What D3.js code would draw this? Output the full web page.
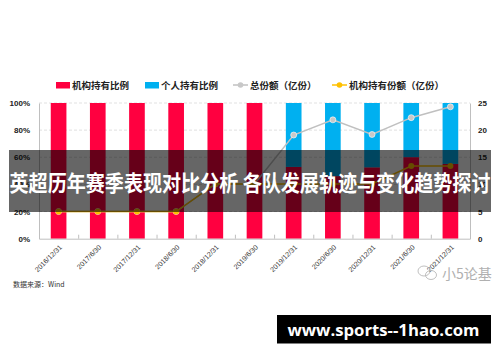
<!DOCTYPE html>
<html>
<head>
<meta charset="utf-8">
<script src="https://cdn.jsdelivr.net/npm/d3@7"></script>
<style>
  body { margin: 0; background: #fff; }
  svg { display: block; }
</style>
</head>
<body>
<svg id="chart" width="500" height="362"></svg>
<script>
// data
const dates = ['2016/12/31', '2017/6/30', '2017/12/31', '2018/6/30', '2018/12/31', '2019/6/30',
  '2019/12/31', '2020/6/30', '2020/12/31', '2021/6/30', '2021/12/31'];
const instPct = [100, 100, 100, 100, 100, 100, 52.9, 46.1, 52.6, 60.1, 55.1];
const indivPct = instPct.map(v => 100 - v);
const totalShares = [5, 5, 5, 5, 10.1, 10.1, 19.1, 21.9, 19.2, 22.3, 24.3];
const instShares = [5, 5, 5, 5, 10.1, 10.1, 10.1, 10.1, 10.1, 13.4, 13.4];
const pctTicks = [0, 20, 40, 60, 80, 100];
const shareTicks = [0, 5, 10, 15, 20, 25];

const svg = d3.select('#chart');
const plotLeft = 39, plotRight = 470, plotTop = 103, plotBottom = 238.7;

const x = d3.scaleBand().domain(dates).range([plotLeft, plotRight]).paddingInner(0.6).paddingOuter(0.3);
const xEdge = d3.scaleLinear().domain([0, dates.length]).range([plotLeft, plotRight]);
const y = d3.scaleLinear().domain([0, 100]).range([plotBottom, plotTop]);
const y2 = d3.scaleLinear().domain([0, 25]).range([plotBottom, plotTop]);

svg.append('rect').attr('width', 500).attr('height', 362).attr('fill', '#fff');

// gridlines
svg.append('g')
  .selectAll('line')
  .data(pctTicks.slice(1))
  .enter().append('line')
  .attr('x1', plotLeft).attr('x2', plotRight)
  .attr('y1', d => y(d)).attr('y2', d => y(d))
  .attr('stroke', '#d9d9d9')
  .attr('stroke-dasharray', '3,2')
  .attr('stroke-width', 0.8);

// stacked bars
const rows = dates.map((d, i) => ({ date: d, inst: instPct[i], indiv: indivPct[i] }));
const stack = d3.stack().keys(['inst', 'indiv'])(rows);
const colors = { inst: '#ff0040', indiv: '#00b0f0' };

svg.append('g')
  .selectAll('g')
  .data(stack)
  .enter().append('g')
  .attr('fill', s => colors[s.key])
  .selectAll('rect')
  .data(s => s)
  .enter().append('rect')
  .attr('x', d => x(d.data.date))
  .attr('width', x.bandwidth())
  .attr('y', d => y(d[1]))
  .attr('height', d => y(d[0]) - y(d[1]));

// axes
const axisColor = '#bfbfbf';
const labelFont = '"Liberation Sans", Arial, sans-serif';

const yAxis = svg.append('g')
  .attr('transform', `translate(${plotLeft},0)`)
  .call(d3.axisLeft(y).tickValues(pctTicks).tickFormat(d => d + '%').tickSize(0).tickPadding(9));
yAxis.select('.domain').attr('stroke', axisColor);

const y2Axis = svg.append('g')
  .attr('transform', `translate(${plotRight},0)`)
  .call(d3.axisRight(y2).tickValues(shareTicks).tickSize(0).tickPadding(8));
y2Axis.select('.domain').attr('stroke', axisColor);

[yAxis, y2Axis].forEach(g => g.selectAll('text')
  .attr('font-family', labelFont)
  .attr('font-size', 8)
  .attr('font-weight', 'bold')
  .attr('fill', '#222'));

const xTicks = svg.append('g')
  .attr('transform', `translate(0,${plotBottom})`)
  .call(d3.axisBottom(xEdge).tickValues(d3.range(dates.length + 1)).tickFormat('').tickSizeInner(-4).tickSizeOuter(0));
xTicks.select('.domain').attr('stroke', axisColor);
xTicks.selectAll('.tick line').attr('stroke', axisColor);

svg.append('g')
  .selectAll('text')
  .data(dates)
  .enter().append('text')
  .attr('transform', d => `translate(${x(d) + x.bandwidth() / 2 + 4},${plotBottom + 9}) rotate(-45)`)
  .attr('text-anchor', 'end')
  .attr('font-family', labelFont)
  .attr('font-size', 7)
  .attr('fill', '#333')
  .text(d => d);

// lines
const lineFn = d3.line().x((d, i) => x(dates[i]) + x.bandwidth() / 2).y(d => y2(d));

svg.append('path')
  .datum(totalShares)
  .attr('d', lineFn)
  .attr('fill', 'none')
  .attr('stroke', '#c0c0c0')
  .attr('stroke-width', 1.5);
svg.append('g')
  .selectAll('circle')
  .data(totalShares)
  .enter().append('circle')
  .attr('cx', (d, i) => x(dates[i]) + x.bandwidth() / 2)
  .attr('cy', d => y2(d))
  .attr('r', 3)
  .attr('fill', '#c8c8c8')
  .attr('stroke', '#fff')
  .attr('stroke-width', 0.6);

svg.append('path')
  .datum(instShares)
  .attr('d', lineFn)
  .attr('fill', 'none')
  .attr('stroke', '#ffc000')
  .attr('stroke-width', 1.5);
svg.append('g')
  .selectAll('circle')
  .data(instShares)
  .enter().append('circle')
  .attr('cx', (d, i) => x(dates[i]) + x.bandwidth() / 2)
  .attr('cy', d => y2(d))
  .attr('r', 3)
  .attr('fill', '#ffc000');

// legend
const legend = svg.append('g').attr('font-family', '"Noto Sans CJK SC", sans-serif')
  .attr('font-size', 9.5).attr('font-weight', 'bold').attr('fill', '#222');
legend.append('rect').attr('x', 56).attr('y', 82).attr('width', 14).attr('height', 6.5).attr('fill', colors.inst);
legend.append('text').attr('x', 72).attr('y', 88.5).text('机构持有比例');
legend.append('rect').attr('x', 145).attr('y', 82).attr('width', 14).attr('height', 6.5).attr('fill', colors.indiv);
legend.append('text').attr('x', 161).attr('y', 88.5).text('个人持有比例');
legend.append('line').attr('x1', 233).attr('x2', 248).attr('y1', 85).attr('y2', 85).attr('stroke', '#c0c0c0').attr('stroke-width', 1.5);
legend.append('circle').attr('cx', 240.5).attr('cy', 85).attr('r', 2.8).attr('fill', '#c8c8c8');
legend.append('text').attr('x', 250).attr('y', 88.5).text('总份额（亿份）');
legend.append('line').attr('x1', 332).attr('x2', 347).attr('y1', 85).attr('y2', 85).attr('stroke', '#ffc000').attr('stroke-width', 1.5);
legend.append('circle').attr('cx', 339.5).attr('cy', 85).attr('r', 2.8).attr('fill', '#ffc000');
legend.append('text').attr('x', 349).attr('y', 88.5).text('机构持有份额（亿份）');

// source note
svg.append('text')
  .attr('x', 13).attr('y', 287)
  .attr('font-family', '"Noto Sans CJK SC", sans-serif')
  .attr('font-size', 7)
  .attr('fill', '#333')
  .text('数据来源：Wind');

// wechat watermark
const wm = svg.append('g').attr('fill', 'none').attr('stroke', '#b8b8b8').attr('stroke-width', 0.9);
wm.append('ellipse').attr('cx', 424).attr('cy', 271).attr('rx', 6).attr('ry', 5);
wm.append('ellipse').attr('cx', 431).attr('cy', 275).attr('rx', 5.5).attr('ry', 4.5);
svg.append('text')
  .attr('x', 442).attr('y', 279)
  .attr('font-family', '"Noto Sans CJK SC", sans-serif')
  .attr('font-size', 14)
  .attr('fill', '#b0b0b0')
  .text('小5论基');

// title banner
svg.append('rect')
  .attr('x', 9).attr('y', 150).attr('width', 482).attr('height', 62)
  .attr('fill', 'rgba(0,0,0,0.6)');
svg.append('text')
  .attr('x', 9.5).attr('y', 191)
  .attr('textLength', 481)
  .attr('lengthAdjust', 'spacingAndGlyphs')
  .attr('font-family', '"Noto Sans CJK SC", sans-serif')
  .attr('font-size', 22)
  .attr('font-weight', 'bold')
  .attr('fill', '#fff')
  .text('英超历年赛季表现对比分析 各队发展轨迹与变化趋势探讨');

// url banner
svg.append('rect')
  .attr('x', 277).attr('y', 315).attr('width', 214).attr('height', 28.5)
  .attr('fill', '#000');
svg.append('text')
  .attr('x', 383.5).attr('y', 335.5)
  .attr('text-anchor', 'middle')
  .attr('textLength', 192)
  .attr('lengthAdjust', 'spacingAndGlyphs')
  .attr('font-family', '"Open Sans", sans-serif')
  .attr('font-size', 16)
  .attr('font-weight', 'bold')
  .attr('fill', '#fff')
  .text('www.sports--1hao.com');
</script>
</body>
</html>
